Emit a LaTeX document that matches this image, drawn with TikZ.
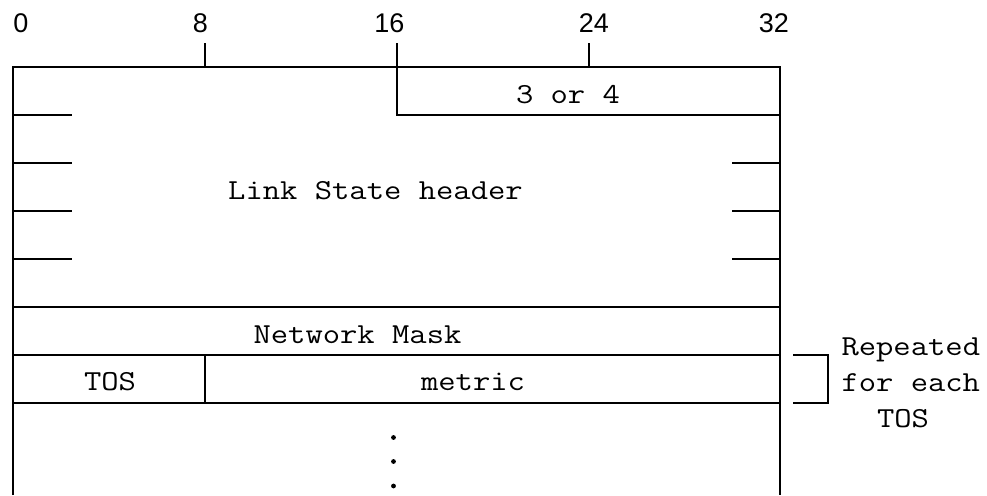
\documentclass[tikz,border=0pt]{standalone}
\usepackage{fontspec}
\setmonofont{Latin Modern Mono}[FakeStretch=1.16]
\newfontfamily\numfont{Liberation Sans}
\begin{document}
\begin{tikzpicture}[x=0.5pt,y=-0.5pt, line width=1pt,
  lbl/.style={font=\ttfamily\fontsize{14.5}{17}\selectfont, inner sep=0pt, anchor=base},
  lblw/.style={lbl, anchor=base west},
  num/.style={font=\numfont\fontsize{13.5}{16}\selectfont, inner sep=0pt, anchor=base}]
\useasboundingbox (0,0) rectangle (987,495);
% bit scale
\node[num] (n0)  at (21,32)    {0};
\node[num] (n8)  at (200.5,32) {8};
\node[num] (n16) at (389.5,32) {16};
\node[num] (n24) at (594,32)   {24};
\node[num] (n32) at (774,32)   {32};
\foreach \x in {204.5,396.5,588.5} \draw (\x,43) -- (\x,66.5);
% outline
\draw (13,495) -- (13,66.5) -- (780,66.5) -- (780,495);
\draw (396.5,66.5) -- (396.5,114.5) -- (780,114.5);
\foreach \y in {114.5,162.5,210.5,258.5} \draw (13,\y) -- (72,\y);
\foreach \y in {162.5,210.5,258.5} \draw (732,\y) -- (780,\y);
\foreach \y in {306.5,354.5,402.5} \draw (13,\y) -- (780,\y);
\draw (204.5,354.5) -- (204.5,402.5);
% bracket
\draw (793,354.5) -- (828,354.5) -- (828,402.5) -- (793,402.5);
% texts
\node[lbl] (ver) at (568,103) {3 or 4};
\node[lbl] (lsh) at (375.5,199) {Link State header};
\node[lbl] (mask) at (357.5,343) {Network Mask};
\node[lbl] (tos) at (110,390) {TOS};
\node[lbl] (metric) at (473,390) {metric};
\node[lblw] (rep1) at (840.5,355) {Repeated};
\node[lblw] (rep2) at (840.5,391.5) {for each};
\node[lblw] (rep3) at (876,427) {TOS};
% dots
\foreach \y in {437.5,461.5,486} \fill (393.5,\y) circle (1.2pt);
\end{tikzpicture}
\end{document}
